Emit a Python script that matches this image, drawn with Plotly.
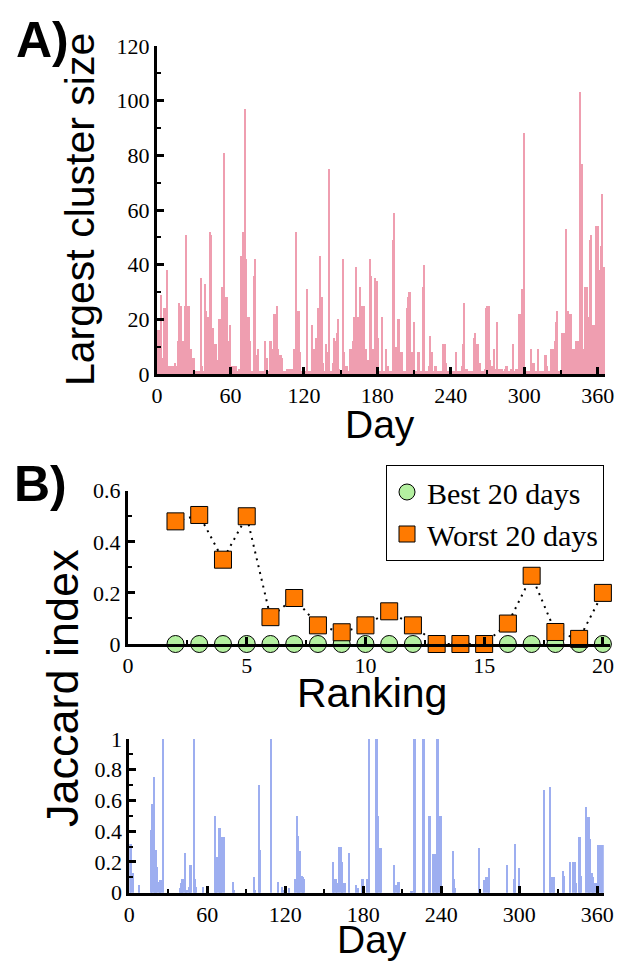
import plotly.graph_objects as go

# A) largest cluster size per day (read off the figure)
days = list(range(366))
cluster_size = [
    10, 16, 16, 29, 6, 3, 24, 24, 38, 3,
    3, 3, 3, 3, 2, 4, 3, 12, 26, 15,
    25, 12, 12, 25, 51, 25, 25, 3, 9, 6,
    6, 1, 1, 1, 1, 1, 35, 3, 1, 33,
    23, 21, 21, 52, 51, 9, 17, 11, 11, 4,
    5, 20, 20, 32, 32, 81, 28, 28, 12, 3,
    18, 3, 1, 3, 1, 3, 1, 2, 2, 43,
    52, 52, 97, 42, 21, 21, 12, 1, 1, 36,
    42, 7, 7, 9, 1, 1, 1, 1, 12, 6,
    6, 1, 12, 12, 9, 9, 22, 22, 25, 9,
    7, 7, 6, 1, 1, 1, 2, 2, 2, 2,
    2, 2, 9, 9, 52, 23, 23, 8, 1, 1,
    1, 1, 1, 31, 1, 1, 1, 18, 9, 9,
    13, 1, 24, 43, 28, 28, 4, 1, 11, 1,
    8, 75, 1, 1, 4, 13, 12, 15, 20, 2,
    1, 1, 42, 8, 3, 3, 1, 1, 9, 9,
    12, 21, 21, 39, 21, 21, 32, 25, 25, 25,
    9, 9, 5, 5, 42, 36, 9, 9, 35, 34,
    34, 13, 1, 1, 21, 1, 1, 9, 3, 3,
    1, 1, 1, 49, 59, 10, 10, 20, 20, 8,
    8, 1, 1, 1, 24, 28, 30, 30, 8, 8,
    19, 1, 1, 8, 8, 1, 1, 32, 40, 1,
    1, 1, 3, 14, 8, 8, 1, 3, 3, 1,
    1, 1, 1, 1, 11, 11, 4, 1, 1, 1,
    1, 1, 1, 1, 8, 1, 1, 1, 1, 3,
    11, 26, 2, 2, 1, 1, 1, 1, 1, 13,
    15, 11, 11, 4, 4, 1, 1, 1, 2, 24,
    25, 25, 5, 3, 3, 9, 2, 1, 19, 2,
    2, 2, 2, 1, 2, 3, 3, 1, 1, 2,
    2, 11, 1, 2, 2, 2, 22, 22, 31, 31,
    88, 1, 1, 1, 1, 1, 9, 4, 4, 1,
    1, 9, 1, 1, 1, 1, 1, 7, 7, 3,
    1, 1, 9, 9, 9, 12, 19, 23, 1, 1,
    1, 15, 15, 15, 53, 23, 23, 22, 22, 9,
    9, 9, 12, 12, 12, 12, 103, 77, 9, 9,
    32, 32, 21, 21, 49, 51, 18, 18, 18, 54,
    54, 38, 38, 47, 66, 39,
]

# B) Jaccard index of the best / worst 20 days
ranking = [2, 3, 4, 5, 6, 7, 8, 9, 10, 11, 12, 13, 14, 15, 16, 17, 18, 19, 20]
best_jaccard = [0, 0, 0, 0, 0, 0, 0, 0, 0, 0, 0, 0, 0, 0, 0, 0, 0, 0, 0]
worst_jaccard = [0.48, 0.505, 0.33, 0.50, 0.105, 0.18, 0.073, 0.046, 0.073, 0.128,
                 0.073, 0.0, 0.0, 0.0, 0.08, 0.267, 0.047, 0.02, 0.2]

# B) Jaccard index per day
daily_jaccard = [
    0, 0.32, 0.32, 0.13, 0, 0, 0, 0, 0.05, 0,
    0, 0, 0, 0, 0, 0, 0, 0.41, 0.58, 0.75,
    0.28, 0.28, 0.17, 0.07, 0.08, 0.08, 1.0, 0, 0, 0,
    0.02, 0, 0, 0, 0, 0, 0, 0, 0, 0.03,
    0.06, 0.09, 0.09, 0.26, 0.02, 0.02, 0.04, 0.18, 0.18, 0,
    1.0, 0.09, 0.04, 0, 0, 0, 0, 0.04, 0, 0,
    0, 0, 0, 0, 0, 0, 0.5, 0.23, 0.23, 0.42,
    0.42, 0.16, 0.36, 0.36, 0, 0, 0, 0, 0, 0,
    0.07, 0.02, 0, 0, 0, 0, 0, 0, 0, 0,
    0, 0, 0, 0, 0, 0, 0.1, 0.02, 0, 0,
    0.7, 0.28, 0, 0, 0, 0, 0, 0, 0, 1.0,
    0, 0, 0, 0, 0, 0.07, 0, 0, 0.04, 0.02,
    0, 0, 0, 0.03, 0, 0, 0, 0, 0.09, 0.5,
    0.37, 0.27, 0.27, 0.11, 0.1, 0.09, 0, 0, 0, 0,
    0, 0, 0, 0, 0, 0, 0, 0, 0, 0,
    0.02, 0, 0, 0, 0, 0, 0, 0.2, 0.09, 0.09,
    0.06, 0, 0.3, 0.3, 0.2, 0.06, 0.06, 0, 0, 0.26,
    0, 0, 0, 0, 0, 0.05, 0.03, 0, 0, 0.09,
    0.09, 0, 0, 0.09, 0, 1.0, 0, 0, 0, 0,
    1.0, 1.0, 0.5, 0.29, 0.29, 0, 0, 0, 0, 0,
    0, 0, 0, 0, 0.18, 0.05, 0.05, 0.07, 0.07, 0,
    0, 0, 0, 0, 0, 0, 0, 0.01, 0.01, 1.0,
    1.0, 0, 0, 0, 0, 0, 1.0, 1.0, 0, 0,
    0, 0.5, 0.5, 0, 0.25, 0.25, 0.25, 1.0, 1.0, 0.5,
    0.5, 0, 0, 0, 0, 0, 0, 0, 0, 0.27,
    0.09, 0.03, 0, 0, 0, 0, 0, 0, 0, 0,
    0, 0, 0, 0, 0, 0, 0, 0, 0, 0.29,
    0.02, 0, 0, 0.08, 0, 0.1, 0.1, 0.16, 0, 0,
    0, 0, 0, 0, 0, 0, 0, 0, 0, 0,
    0, 0.18, 0, 0, 0, 0, 0.09, 0.32, 0, 0,
    0.16, 0, 0, 0, 0, 0, 0, 0, 0, 0,
    0, 0, 0, 0, 0, 0, 0, 0, 0, 0.67,
    0, 0, 0, 0, 0.69, 0.1, 0.1, 0.1, 0, 0,
    0, 0, 0, 0, 0.14, 0.11, 0, 0, 0, 0.2,
    0, 0, 0.2, 0.2, 0.06, 0, 0.36, 0.36, 0.11, 0,
    0, 0, 0.56, 0.49, 0.49, 0.35, 0.13, 0.1, 0.06, 0.06,
    0, 0.31, 0.31, 0.31, 0.31, 0.31,
]

# the page body has an 8px margin, so the figure is made 8px smaller
# and every position below is given in window pixels
OFF = 8
W, H = 632 - OFF, 962 - OFF
def px(x): return (x - OFF) / W
def py(y): return 1 - (y - OFF) / H

PINK = '#EF9EB0'
BLUE = '#9DAEF0'
GREEN = '#B4F0A0'
ORANGE = '#FF7A00'
SANS = 'Liberation Sans'
SERIF = 'Liberation Serif'

data = [
    go.Bar(x = days, y = cluster_size, width = 1, marker = dict(color = PINK, line = dict(width = 0)),
           xaxis = 'x', yaxis = 'y', showlegend = False),
    go.Scatter(x = ranking, y = worst_jaccard, mode = 'lines',
               line = dict(color = 'black', width = 2, dash = '2px,5px'),
               xaxis = 'x2', yaxis = 'y2', showlegend = False),
    go.Scatter(x = ranking, y = best_jaccard, mode = 'markers', name = 'Best 20 days',
               marker = dict(symbol = 'circle', size = 17, color = GREEN, line = dict(color = 'black', width = 1)),
               cliponaxis = False, xaxis = 'x2', yaxis = 'y2'),
    go.Scatter(x = ranking, y = worst_jaccard, mode = 'markers', name = 'Worst 20 days',
               marker = dict(symbol = 'square', size = 17, color = ORANGE, line = dict(color = 'black', width = 1)),
               cliponaxis = False, xaxis = 'x2', yaxis = 'y2'),
    go.Bar(x = days, y = daily_jaccard, width = 1, marker = dict(color = BLUE, line = dict(width = 0)),
           xaxis = 'x3', yaxis = 'y3', showlegend = False),
]

def axis(domain, rng, dtick, minor, anchor):
    return dict(
        domain = domain, range = rng, anchor = anchor, automargin = False,
        tick0 = 0, dtick = dtick,
        ticks = 'inside', ticklen = 7, tickwidth = 3, tickcolor = 'black',
        minor = dict(tick0 = 0, dtick = minor, ticks = 'inside', ticklen = 4, tickwidth = 2, tickcolor = 'black'),
        showline = True, linewidth = 3, linecolor = 'black',
        showgrid = False, zeroline = False,
        tickfont = dict(family = SERIF, size = 22, color = 'black'),
    )

def label(text, x, y, size = 41, angle = 0, family = SANS):
    return dict(text = text, x = px(x), y = py(y), xref = 'paper', yref = 'paper',
                showarrow = False, textangle = angle, xanchor = 'center', yanchor = 'middle',
                font = dict(family = family, size = size, color = 'black'))

fig = go.Figure(data = data)
fig.update_layout(
    width = W, height = H,
    margin = dict(l = 0, r = 0, t = 0, b = 0, autoexpand = False),
    plot_bgcolor = 'white', paper_bgcolor = 'white',
    xaxis = axis([px(157), px(605)], [0, 366], 60, 30, 'y'),
    yaxis = axis([py(374), py(46)], [0, 120], 20, 10, 'x'),
    xaxis2 = axis([px(128), px(610)], [0, 20.3], 5, 2.5, 'y2'),
    yaxis2 = axis([py(644), py(490.7)], [0, 0.6], 0.2, 0.1, 'x2'),
    xaxis3 = axis([px(129.3), px(603.8)], [0, 365], 60, 30, 'y3'),
    yaxis3 = axis([py(892.7), py(739)], [0, 1], 0.2, 0.1, 'x3'),
    bargap = 0,
    legend = dict(
        x = px(386), y = py(465), xanchor = 'left', yanchor = 'top',
        bordercolor = 'black', borderwidth = 1, bgcolor = 'white',
        font = dict(family = SERIF, size = 30, color = 'black'),
        itemwidth = 30, tracegroupgap = 0,
    ),
    annotations = [
        label('<b>A)</b>', 42, 40, size = 50),
        label('<b>B)</b>', 40, 484, size = 50),
        label('Largest cluster size', 80, 210, angle = -90),
        label('Day', 380, 424, size = 39),
        label('Ranking', 372, 693),
        label('Jaccard index', 62, 688, size = 45, angle = -90),
        label('Day', 372, 939, size = 39),
    ],
)

fig.write_html('out.html')
